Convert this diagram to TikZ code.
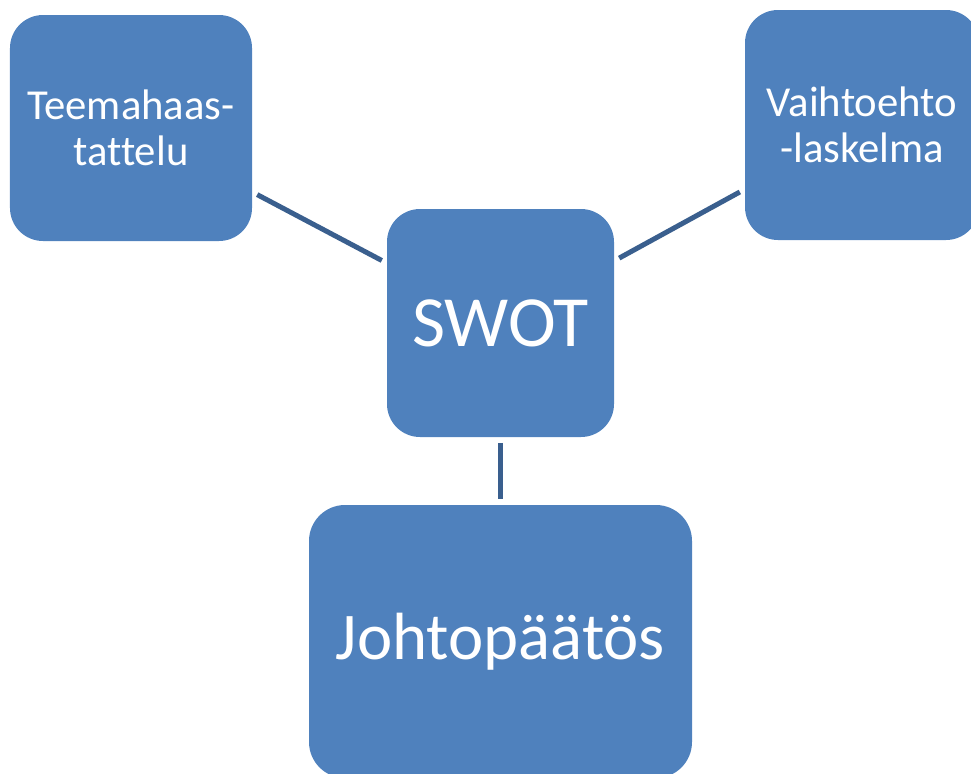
\documentclass[tikz,border=0pt]{standalone}
\usepackage{fontspec}
\setmainfont[Ligatures={NoCommon}]{Carlito}
\usepackage{xcolor}
\usepackage{tikz}
\definecolor{boxblue}{HTML}{4F81BD}
\definecolor{linkblue}{HTML}{3A5F8E}

\begin{document}
\begin{tikzpicture}[
			% Define styles for the boxes
			box/.style={
				fill=boxblue,
				text=white,
				inner sep=0pt,
				align=center,
				rounded corners=0.66cm
			},
			small_text/.style={
				font=\fontsize{24.3}{26}\selectfont
			},
			big_text/.style={
				font=\fontsize{41}{46}\selectfont
			},
			link/.style={
				draw=linkblue,
				line width=0.1cm,
				shorten <=0.11cm,
				shorten >=0.11cm
			}
			]
			\clip (0,0) rectangle (19.42,-15.46);
			
			% --- 1. CENTRE ---
			\node[box, big_text, minimum width=4.54cm, minimum height=4.56cm] (swot) at (10.01,-6.46) {SWOT};
			
			% --- 2. SOURCES ---
			\node[box, small_text, minimum width=4.84cm, minimum height=4.52cm] (teema) at (2.62,-2.56) {Teemahaas-\\tattelu};
			\node[box, small_text, minimum width=4.68cm, minimum height=4.60cm] (vaihto) at (17.24,-2.50) {Vaihtoehto\\-laskelma};
			
			% --- 3. RESULT ---
			\node[box, big_text, font=\fontsize{38}{46}\selectfont, minimum width=7.66cm, minimum height=5.46cm, rounded corners=0.72cm] (johto) at (10.01,-12.83) {Johtopäätös};
			
			% Connectors
			\draw[link] (teema) -- (swot);
			\draw[link] (vaihto) -- (swot);
			\draw[link] (swot) -- (johto);
			
		\end{tikzpicture}
\end{document}
